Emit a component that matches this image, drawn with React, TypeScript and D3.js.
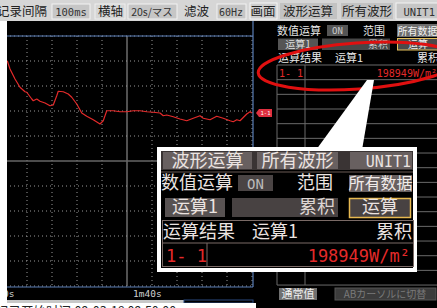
import React from "react";
import * as d3 from "d3";

// waveform readings (time in s, value in W/m2)
const timeSec = [4.2, 6.4, 10.4, 14.4, 18.4, 19.8, 23.8, 25, 27.8, 30.4, 34.4, 38.4, 41, 43.8, 45, 49, 53, 55.8, 59.8, 63.8, 67.8, 73, 78.4, 81, 83.8, 89, 94.4, 99.8, 105, 110.4, 115.8, 121, 126.4, 129, 131.8, 137, 142.4, 147.8, 153, 158.4, 161, 166.4, 171.8, 177, 182.4, 185, 187.8, 190.4, 195.8, 198.4, 200];
const values = [901, 868, 828, 795, 777, 775, 748, 741, 748, 739, 732, 721, 724, 761, 779, 777, 768, 755, 728, 692, 679, 665, 648, 661, 701, 701, 697, 697, 701, 701, 697, 695, 692, 681, 684, 677, 668, 661, 671, 681, 671, 665, 679, 671, 661, 657, 665, 661, 688, 697, 692];
const timeLabelSec = [0, 100];
const timeLabels = ["0s", "1m40s"];

const CJK = "'Noto Sans CJK SC', sans-serif";
const JP = "'Noto Sans CJK JP', sans-serif";
const MONO = "'DejaVu Sans Mono', monospace";
const RED = "#e42a2a";

const App: React.FC = () => {
  const x = d3.scaleLinear().domain([0, 200]).range([2, 252]);
  const y = d3.scaleLinear().domain([0, 1000]).range([286, 36]);
  const line = d3
    .line<number>()
    .x((_, i) => x(timeSec[i]))
    .y((d) => y(d));

  const xTicks = x.ticks(10);
  const yTicks = y.ticks(10);
  const tableRows = d3.range(16).map((i) => 65 + i * 14.67);
  const lastY = y(values[values.length - 1]);

  return (
    <svg width={437} height={308} style={{ position: "absolute", left: 0, top: 0, background: "#000" }}>
      {/* top bar */}
      <rect x={0} y={0} width={437} height={21} fill="#d6d6d6" />
      <g fontFamily={CJK} fontSize={12.5} fill="#222">
        <text x={-3} y={16}>记录间隔</text>
        <rect x={52} y={4} width={38} height={15} fill="#c6c6c6" stroke="#f2f2f2" />
        <text x={71} y={16} textAnchor="middle" fontFamily={MONO} fontSize={10.5} fill="#333">100ms</text>
        <rect x={95} y={4} width={30} height={15} fill="none" stroke="#eee" />
        <text x={98} y={16}>横轴</text>
        <rect x={128} y={4} width={49} height={15} fill="#c6c6c6" stroke="#f2f2f2" />
        <text x={152} y={16} textAnchor="middle" fontFamily={JP} fontSize={10.5} fill="#333">20s/マス</text>
        <text x={184} y={16}>滤波</text>
        <rect x={217} y={4} width={29} height={15} fill="#c6c6c6" stroke="#f2f2f2" />
        <text x={231} y={16} textAnchor="middle" fontFamily={MONO} fontSize={10} fill="#333">60Hz</text>
        <rect x={250} y={3} width={27} height={16} fill="#cdcdcd" stroke="#f5f5f5" />
        <text x={263} y={16} textAnchor="middle">画面</text>
        <rect x={280} y={3} width={57} height={16} fill="#c2c2c2" />
        <text x={308} y={16} textAnchor="middle">波形运算</text>
        <rect x={341} y={3} width={52} height={16} fill="#c2c2c2" />
        <text x={367} y={16} textAnchor="middle">所有波形</text>
        <rect x={396} y={3} width={45} height={16} fill="#c6c6c6" stroke="#f2f2f2" />
        <text x={435} y={16} textAnchor="end" fontFamily={MONO} fontSize={10.5} fill="#333">UNIT1</text>
      </g>

      {/* grid */}
      <g>
        {xTicks.map((t) => (
          <line key={`x${t}`} x1={x(t)} x2={x(t)} y1={36} y2={286}
            stroke={t === 100 ? "#666" : "#999"} strokeWidth={t === 100 ? 1.6 : 1}
            strokeDasharray={t === 100 ? undefined : "1 3"} />
        ))}
        {yTicks.map((v) => (
          <line key={`y${v}`} x1={2} x2={252} y1={y(v)} y2={y(v)}
            stroke={v === 500 ? "#666" : "#999"} strokeWidth={v === 500 ? 1.6 : 1}
            strokeDasharray={v === 500 ? undefined : "1 3"} />
        ))}
      </g>
      <line x1={0} x2={253} y1={36} y2={36} stroke="#5a7fb8" strokeWidth={1.2} />
      <line x1={253} x2={253} y1={21} y2={287} stroke="#5a7fb8" strokeWidth={1.2} />
      <line x1={0} x2={253} y1={287} y2={287} stroke="#5a7fb8" strokeWidth={1.2} />

      {/* waveform */}
      <path d={line(values) ?? ""} fill="none" stroke={RED} strokeWidth={1.2} strokeLinejoin="round" />

      {/* channel marker */}
      <path d={`M256,${lastY} L259,${lastY - 4} L272,${lastY - 4} L272,${lastY + 4} L259,${lastY + 4} Z`} fill="#e03040" />
      <text x={265.5} y={lastY + 2.2} textAnchor="middle" fontFamily={MONO} fontSize={5.5} fill="#fff">1-1</text>

      {/* time axis labels */}
      {timeLabelSec.map((t, i) => (
        <text key={t} x={x(t) + (t === 0 ? 1 : 6)} y={297} fontFamily={MONO} fontSize={9.5} fill="#d0d0d0">{timeLabels[i]}</text>
      ))}
      <rect x={7} y={300} width={177} height={3} fill="#c8c8c8" />
      <rect x={184} y={300} width={69} height={3} fill="none" stroke="#2a4a80" />

      {/* right panel */}
      <g fontFamily={CJK} fontSize={11} fill="#e8e8e8">
        <text x={277} y={34.5}>数值运算</text>
        <rect x={327} y={25} width={21} height={11} fill="#555" />
        <text x={337.5} y={34} textAnchor="middle" fontFamily={MONO} fontSize={9} fill="#ccc">ON</text>
        <text x={363} y={34.5}>范围</text>
        <rect x={397} y={24} width={42} height={13} fill="#6e6e6e" />
        <text x={397.5} y={34.5} fontSize={10} fill="#f4f4f4">所有数据</text>
        <rect x={278} y={38.5} width={40} height={11.5} fill="#555" />
        <text x={298} y={48} textAnchor="middle" fontSize={10} fill="#ddd">运算1</text>
        <rect x={322} y={38.5} width={68} height={11.5} fill="#474747" />
        <text x={388} y={48} textAnchor="end" fontSize={10} fill="#ccc">累积</text>
        <rect x={397.5} y={38.5} width={42} height={11.5} fill="#4a4a4a" stroke="#e6c05a" />
        <text x={418} y={48} textAnchor="middle" fontSize={10} fill="#eee">运算</text>
        <text x={278} y={62}>运算结果</text>
        <text x={335} y={62}>运算1</text>
        <text x={417} y={62}>累积</text>
      </g>
      {tableRows.map((ry, i) => (
        <line key={i} x1={277} x2={437} y1={ry} y2={ry} stroke="#6a6a6a" />
      ))}
      <line x1={277} x2={277} y1={65} y2={285} stroke="#6a6a6a" />
      <line x1={305} x2={305} y1={65} y2={285} stroke="#6a6a6a" />
      <text x={279} y={76.5} fontFamily={MONO} fontSize={10} fill={RED}>1- 1</text>
      <text x={437} y={76.5} textAnchor="end" fontFamily={MONO} fontSize={10} fill={RED}>198949W/m²</text>

      {/* bottom right buttons */}
      <rect x={279} y={288} width={38} height={12} fill="#707070" />
      <text x={298} y={298} textAnchor="middle" fontFamily={CJK} fontSize={11} fill="#f0f0f0">通常值</text>
      <rect x={335} y={288} width={101} height={12} fill="#3c3c3c" stroke="#555" />
      <text x={385} y={298} textAnchor="middle" fontFamily={JP} fontSize={10} fill="#7a7a7a">ABカーソルに切替</text>

      {/* white margins */}
      <rect x={0} y={21} width={7} height={287} fill="#fff" />
      <rect x={0} y={303} width={256} height={5} fill="#fff" />
      <text x={-4} y={316} fontFamily={CJK} fontSize={12.5} fill="#222">记录开始时间:09-03-18 09:50:00</text>

      {/* highlight ellipse & callout */}
      <ellipse cx={358} cy={66} rx={100} ry={23} fill="none" stroke="#e01010" strokeWidth={3}
        transform="rotate(-4 358 66)" />
      <polygon points="367,80 374,80 362,150 316,150" fill="#fff" />

      <rect x={159} y={149} width={256} height={121} fill="#000" stroke="#fff" strokeWidth={4} />
      <g fontFamily={CJK} fontSize={18}>
        <rect x={161} y={151} width={252} height={19} fill="#3a3434" />
        <rect x={163} y={152} width={89} height={17} fill="#686060" />
        <text x={207.5} y={167} textAnchor="middle" fill="#ebe3e0">波形运算</text>
        <rect x={257} y={152} width={81} height={17} fill="#686060" />
        <text x={297.5} y={167} textAnchor="middle" fill="#ebe3e0">所有波形</text>
        <rect x={350} y={152} width={62} height={17} fill="#686060" />
        <text x={411} y={166.5} textAnchor="end" fontFamily={MONO} fontSize={15} fill="#ebe3e0">UNIT1</text>
        <line x1={161} x2={413} y1={172} y2={172} stroke="#6a5a55" />

        <text x={161} y={189} fill="#ebe3e0">数值运算</text>
        <rect x={238} y={175} width={35} height={16} fill="#4a4444" />
        <text x={255.5} y={188.5} textAnchor="middle" fontFamily={MONO} fontSize={14} fill="#bbb">ON</text>
        <text x={297} y={189} fill="#ebe3e0">范围</text>
        <rect x={349} y={175} width={63} height={17} fill="#686060" />
        <text x={380.5} y={189} textAnchor="middle" fontSize={16} fill="#f2ecea">所有数据</text>

        <rect x={165} y={198} width={60} height={19} fill="#585252" />
        <text x={195} y={213} textAnchor="middle" fill="#ebe3e0">运算1</text>
        <rect x={232} y={198} width={106} height={19} fill="#484242" />
        <text x={335} y={213} textAnchor="end" fill="#ddd5d2">累积</text>
        <rect x={349.5} y={198.5} width={61} height={19} fill="#484242" stroke="#e6b850" strokeWidth={1.5} />
        <text x={380} y={213} textAnchor="middle" fill="#ebe3e0">运算</text>

        <rect x={162.5} y={220.5} width={251} height={46} fill="none" stroke="#7a6a66" />
        <text x={163} y={238} fill="#ebe3e0">运算结果</text>
        <text x={252} y={238} fill="#ebe3e0">运算1</text>
        <text x={412} y={238} textAnchor="end" fill="#ebe3e0">累积</text>
        <line x1={162} x2={413} y1={243} y2={243} stroke="#7a6a66" />
        <line x1={207} x2={207} y1={243} y2={267} stroke="#7a6a66" />
        <text x={166} y={262} fontFamily={MONO} fontSize={17} fill={RED}>1- 1</text>
        <text x={410} y={262} textAnchor="end" fontFamily={MONO} fontSize={17} fill={RED}>198949W/m²</text>
      </g>
    </svg>
  );
};

export default App;
